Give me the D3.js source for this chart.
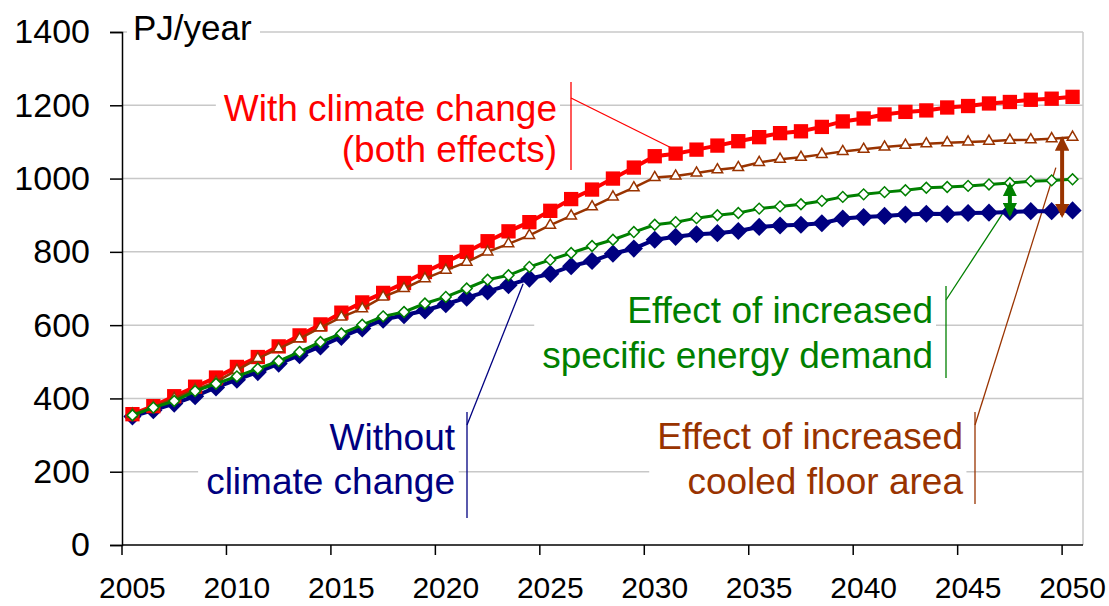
<!DOCTYPE html>
<html>
<head>
<meta charset="utf-8">
<script src="https://cdn.jsdelivr.net/npm/d3@7"></script>
<style>
  body { margin: 0; background: #fff; }
  text { font-family: "Liberation Sans", Arial, sans-serif; }
</style>
</head>
<body>
<div id="chart"></div>
<script>
// data (PJ/year)
const years = [2005, 2006, 2007, 2008, 2009, 2010, 2011, 2012, 2013, 2014,
               2015, 2016, 2017, 2018, 2019, 2020, 2021, 2022, 2023, 2024,
               2025, 2026, 2027, 2028, 2029, 2030, 2031, 2032, 2033, 2034,
               2035, 2036, 2037, 2038, 2039, 2040, 2041, 2042, 2043, 2044,
               2045, 2046, 2047, 2048, 2049, 2050];

const withoutClimate = [351, 368, 386, 406, 430, 451, 472, 495, 518, 542,
                        568, 591, 615, 627, 640, 657, 675, 692, 709, 727,
                        740, 761, 775, 795, 809, 833, 841, 848, 851, 857,
                        868, 872, 874, 878, 891, 895, 898, 902, 904, 903,
                        906, 907, 909, 911, 911, 913];

const specificDemand = [354, 375, 393, 420, 440, 460, 481, 502, 527, 554,
                        577, 601, 624, 636, 659, 677, 700, 724, 736, 759,
                        778, 797, 816, 833, 854, 874, 881, 892, 900, 906,
                        918, 924, 930, 939, 950, 957, 963, 968, 975, 977,
                        980, 984, 988, 993, 995, 998];

const cooledArea = [357, 377, 400, 424, 445, 477, 509, 536, 563, 593,
                    622, 645, 677, 700, 727, 750, 772, 800, 822, 845,
                    873, 898, 923, 950, 975, 1003, 1007, 1015, 1024, 1030,
                    1044, 1053, 1058, 1066, 1074, 1080, 1086, 1091, 1095, 1098,
                    1100, 1102, 1105, 1106, 1109, 1113];

const withClimate = [357, 379, 406, 432, 457, 486, 513, 542, 572, 602,
                     634, 662, 688, 715, 745, 772, 800, 829, 856, 881,
                     912, 944, 970, 1000, 1030, 1061, 1068, 1079, 1090, 1102,
                     1113, 1124, 1129, 1141, 1156, 1164, 1175, 1182, 1186, 1194,
                     1198, 1205, 1209, 1215, 1218, 1223];

const yTicks = [0, 200, 400, 600, 800, 1000, 1200, 1400];
const xTickLabels = [2005, 2010, 2015, 2020, 2025, 2030, 2035, 2040, 2045, 2050];

const chartWidth = 1109, chartHeight = 606;
const plotLeft = 122, plotRight = 1083, plotTop = 32, plotBottom = 545;

const RED = "#ff0000", BROWN = "#993300", GREEN = "#008000", NAVY = "#000080";

let svg = d3.select("#chart").append("svg")
    .attr("width", chartWidth)
    .attr("height", chartHeight)
    .style("display", "block")

let x = d3.scaleLinear().domain([years[0] - 0.5, years[years.length - 1] + 0.5]).range([plotLeft, plotRight]);
let y = d3.scaleLinear().domain([0, 1400]).range([plotBottom, plotTop]);

// gridlines
svg.append("g")
    .selectAll("line")
    .data(yTicks.slice(1))
    .enter()
    .append("line")
    .attr("x1", plotLeft).attr("x2", plotRight)
    .attr("y1", d => y(d)).attr("y2", d => y(d))
    .attr("stroke", "#c8c8c8")
    .attr("stroke-width", 1.5)

// right border of the plot area
svg.append("line")
    .attr("x1", plotRight).attr("x2", plotRight)
    .attr("y1", y(1400)).attr("y2", y(0))
    .attr("stroke", "#c8c8c8")
    .attr("stroke-width", 1.5)

// annotation labels: layout in pixels, leaders point to data
const notes = [
    {lines: ["With climate change", "(both effects)"], color: RED, tx: 557, base: [121, 162],
     vx: 571, vy: [82, 170], from: 98, to: [2031, 1078]},
    {lines: ["Effect of increased", "specific energy demand"], color: GREEN, tx: 933, base: [323, 368],
     vx: 946, vy: [286, 378], from: 300, to: [2047, 935]},
    {lines: ["Effect of increased", "cooled floor area"], color: BROWN, tx: 963, base: [449, 494],
     vx: 975, vy: [412, 504], from: 425, to: [2049.2, 1030]},
    {lines: ["Without", "climate change"], color: NAVY, tx: 455, base: [450, 494],
     vx: 467, vy: [412, 518], from: 425, to: [2023.7, 713]}
];

let noteGroups = svg.append("g")
    .selectAll("g.note")
    .data(notes)
    .enter()
    .append("g")
    .classed("note", true)

noteGroups.each(function(d) {
    let g = d3.select(this);
    let box = g.append("rect").attr("fill", "#fff");
    let t = g.append("g");
    d.lines.forEach((line, i) => {
        t.append("text")
            .attr("x", d.tx)
            .attr("y", d.base[i])
            .attr("text-anchor", "end")
            .attr("font-size", 37)
            .attr("fill", d.color)
            .text(line)
    })
    let bb = t.node().getBBox();
    box.attr("x", bb.x - 8).attr("y", bb.y - 2)
        .attr("width", bb.width + 11).attr("height", bb.height + 4)
    g.append("line")
        .attr("x1", d.vx).attr("x2", d.vx)
        .attr("y1", d.vy[0]).attr("y2", d.vy[1])
        .attr("stroke", d.color).attr("stroke-width", 1.3)
    g.append("line")
        .attr("x1", d.vx).attr("y1", d.from)
        .attr("x2", x(d.to[0])).attr("y2", y(d.to[1]))
        .attr("stroke", d.color).attr("stroke-width", 1.3)
})

// unit label
let unit = svg.append("g");
let unitBox = unit.append("rect").attr("fill", "#fff");
let unitText = unit.append("text")
    .attr("x", 133)
    .attr("y", 40)
    .attr("font-size", 35)
    .attr("fill", "#000")
    .text("PJ/year")
let ub = unitText.node().getBBox();
unitBox.attr("x", ub.x - 6).attr("y", ub.y).attr("width", ub.width + 14).attr("height", ub.height)

// axes
let yAxis = svg.append("g")
    .attr("transform", `translate(${plotLeft},0)`)
    .call(d3.axisLeft(y).tickValues(yTicks).tickFormat(d3.format("d")).tickSize(12).tickPadding(20))
yAxis.select(".domain").attr("stroke", "#000").attr("stroke-width", 1.5)
yAxis.selectAll(".tick line").attr("stroke", "#000").attr("stroke-width", 1.5)
yAxis.selectAll(".tick text")
    .attr("font-size", 34)
    .attr("font-family", "Liberation Sans, Arial, sans-serif")
    .attr("fill", "#000")

svg.append("line")
    .attr("x1", plotLeft).attr("x2", plotRight)
    .attr("y1", plotBottom).attr("y2", plotBottom)
    .attr("stroke", "#000").attr("stroke-width", 1.5)

svg.append("g")
    .selectAll("line")
    .data(xTickLabels)
    .enter()
    .append("line")
    .attr("x1", d => x(d - 0.5)).attr("x2", d => x(d - 0.5))
    .attr("y1", plotBottom).attr("y2", plotBottom + 10)
    .attr("stroke", "#000").attr("stroke-width", 1.5)

svg.append("g")
    .selectAll("text")
    .data(xTickLabels)
    .enter()
    .append("text")
    .attr("x", d => x(d))
    .attr("y", 598)
    .attr("text-anchor", "middle")
    .attr("font-size", 30)
    .attr("fill", "#000")
    .text(d => d)

// series
const series = [
    {name: "Without climate change", values: withoutClimate, color: NAVY, lw: 4,
     symbol: d3.symbolSquare, size: 165, rotate: 45, fill: NAVY},
    {name: "With climate change", values: withClimate, color: RED, lw: 4,
     symbol: d3.symbolSquare, size: 205, rotate: 0, fill: RED},
    {name: "Cooled floor area", values: cooledArea, color: BROWN, lw: 2.5,
     symbol: d3.symbolTriangle, size: 48, rotate: 0, fill: "#fff"},
    {name: "Specific energy demand", values: specificDemand, color: GREEN, lw: 3,
     symbol: d3.symbolSquare, size: 58, rotate: 45, fill: "#fff"}
];

let line = d3.line()
    .x((d, i) => x(years[i]))
    .y(d => y(d))

series.forEach(s => {
    let g = svg.append("g");
    g.append("path")
        .datum(s.values)
        .attr("d", line)
        .attr("fill", "none")
        .attr("stroke", s.color)
        .attr("stroke-width", s.lw)
    g.selectAll("path.marker")
        .data(s.values)
        .enter()
        .append("path")
        .classed("marker", true)
        .attr("d", d3.symbol().type(s.symbol).size(s.size))
        .attr("transform", (d, i) => `translate(${x(years[i])},${y(d)}) rotate(${s.rotate})`)
        .attr("fill", s.fill)
        .attr("stroke", s.color)
        .attr("stroke-width", s.fill === "#fff" ? 1.5 : 0)
})

// double arrows showing the two effects
let defs = svg.append("defs");
[["ahGreen", GREEN], ["ahBrown", BROWN]].forEach(([id, c]) => {
    defs.append("marker")
        .attr("id", id)
        .attr("viewBox", "0 0 10 10")
        .attr("refX", 8).attr("refY", 5)
        .attr("markerWidth", 3.6).attr("markerHeight", 3.6)
        .attr("orient", "auto-start-reverse")
        .append("path")
        .attr("d", "M0,0 L10,5 L0,10 Z")
        .attr("fill", c)
})

const arrows = [
    {at: 2047, from: specificDemand[42], to: withoutClimate[42] - 12, color: GREEN, id: "ahGreen"},
    {at: 2049.5, from: cooledArea[45], to: withoutClimate[45] - 18, color: BROWN, id: "ahBrown"}
];

svg.append("g")
    .selectAll("line")
    .data(arrows)
    .enter()
    .append("line")
    .attr("x1", d => x(d.at)).attr("x2", d => x(d.at))
    .attr("y1", d => y(d.from) + 2).attr("y2", d => y(d.to) - 2)
    .attr("stroke", d => d.color)
    .attr("stroke-width", 4)
    .attr("marker-start", d => `url(#${d.id})`)
    .attr("marker-end", d => `url(#${d.id})`)
</script>
</body>
</html>
